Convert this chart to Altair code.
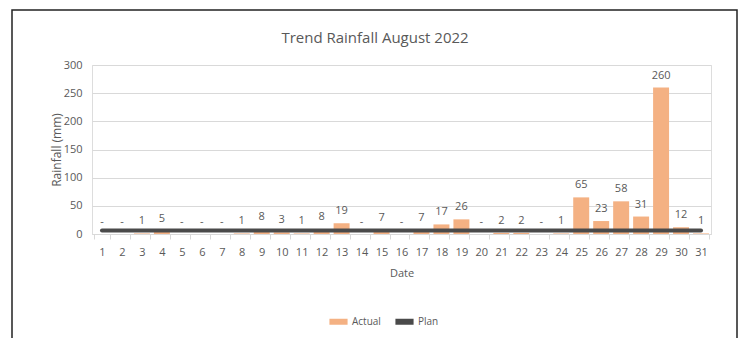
import altair as alt
import pandas as pd

dates = list(range(1, 32))
actual = [0, 0, 1, 5, 0, 0, 0, 1, 8, 3, 1, 8, 19, 0, 7, 0, 7, 17, 26, 0,
          2, 2, 0, 1, 65, 23, 58, 31, 260, 12, 1]
plan = [6] * 31
y_ticks = [0, 50, 100, 150, 200, 250, 300]
title_text = ["Trend Rainfall August 2022"]

df = pd.DataFrame({"date": dates, "actual": actual, "plan": plan})
df["s_actual"] = "Actual"
df["s_plan"] = "Plan"

FONT = "Open Sans, sans-serif"
GREY = "#595959"
ORANGE = "#F4B183"
DARK = "#4A4A4A"

xaxis = alt.Axis(labelAngle=0, tickBand="extent", tickSize=5,
                 tickColor="#d9d9d9", domainColor="#d9d9d9",
                 labelColor=GREY, labelFont=FONT, labelFontSize=11,
                 labelPadding=7, titleColor=GREY, titleFont=FONT,
                 titleFontSize=11, titleFontWeight="normal",
                 titlePadding=10, grid=False)
xscale = alt.Scale(paddingInner=0.2, paddingOuter=0.1)

yaxis = alt.Axis(values=y_ticks, tickCount=7, labelOverlap=False,
                 domain=False, ticks=False, gridColor="#d9d9d9",
                 labelColor=GREY, labelFont=FONT, labelFontSize=11,
                 labelPadding=10, titleColor=GREY, titleFont=FONT,
                 titleFontSize=12, titleFontWeight="normal",
                 titlePadding=0)
yscale = alt.Scale(domain=[0, 300])

color_scale = alt.Scale(domain=["Actual", "Plan"], range=[ORANGE, DARK])

bars = alt.Chart(df).mark_bar(color=ORANGE).encode(
    x=alt.X("date:O", title="Date", sort="ascending", scale=xscale, axis=xaxis),
    y=alt.Y("actual:Q", title="Rainfall (mm)", scale=yscale, axis=yaxis),
    color=alt.Color("s_actual:N", scale=color_scale,
                    legend=alt.Legend(title=None, orient="none",
                                      direction="horizontal",
                                      legendX=234, legendY=244,
                                      symbolType="stroke",
                                      symbolStrokeWidth=6, symbolSize=330,
                                      labelColor=GREY, labelFont=FONT,
                                      labelFontSize=10, columnPadding=2,
                                      labelOffset=1)),
)

line = alt.Chart(df).mark_line(strokeWidth=4, strokeCap="round").encode(
    x=alt.X("date:O", title="Date", sort="ascending", scale=xscale, axis=xaxis),
    y=alt.Y("plan:Q", title="Rainfall (mm)", scale=yscale, axis=yaxis),
    color=alt.Color("s_plan:N", scale=color_scale),
)

labels = alt.Chart(df).transform_calculate(
    lab="datum.actual == 0 ? '-' : format(datum.actual, 'd')"
).mark_text(dy=-7, baseline="bottom", font=FONT, fontSize=11,
            color=GREY).encode(
    x=alt.X("date:O", title="Date", sort="ascending", scale=xscale, axis=xaxis),
    y=alt.Y("actual:Q", title="Rainfall (mm)", scale=yscale, axis=yaxis),
    text="lab:N",
)

frame = alt.Chart(alt.Data(values=[{}])).mark_rect(
    fill="transparent", stroke="#222222", strokeWidth=1.5
).encode(x=alt.value(-80), x2=alt.value(645), y=alt.value(-55),
         y2=alt.value(300))

title = alt.Chart(pd.DataFrame({"t": title_text})).mark_text(
    font=FONT, fontSize=15, color=GREY, baseline="middle", align="center"
).encode(x=alt.value(283), y=alt.value(-27), text="t:N")

chart = alt.layer(bars, line, labels, frame, title).properties(
    width=619, height=169,
    padding={"left": 92, "top": 65, "right": 31, "bottom": 104},
    autosize=alt.AutoSizeParams(type="none"),
).configure_view(stroke=None).configure(background="white")

chart.save("out.html", embed_options={"renderer": "svg", "actions": False})
